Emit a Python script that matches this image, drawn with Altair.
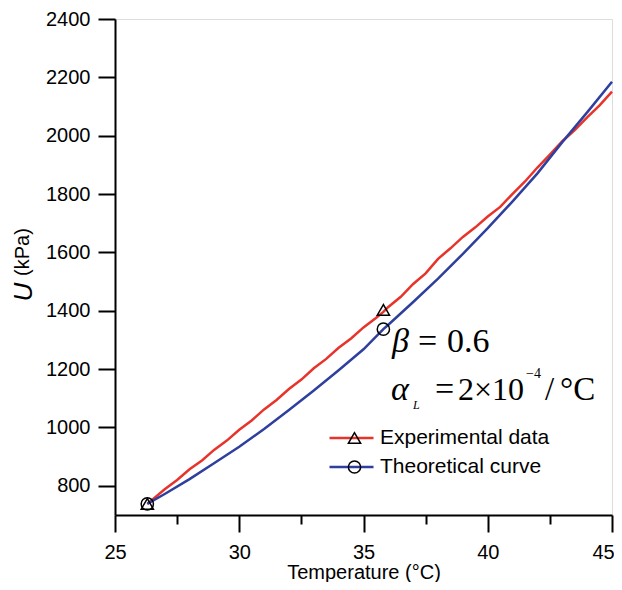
import altair as alt
import pandas as pd

# Experimental data (red)
exp_x = [26.3, 27.0, 27.5, 28.0, 28.5, 29.0, 29.5, 30.0, 30.5, 31.0, 31.5, 32.0, 32.5, 33.0,
         33.5, 34.0, 34.5, 35.0, 35.5, 35.8, 36.0, 36.5, 37.0, 37.5, 38.0, 38.5, 39.0, 39.5,
         40.0, 40.5, 41.0, 41.5, 42.0, 42.5, 43.0, 43.5, 44.0, 44.5, 45.0]
exp_y = [738, 788, 820, 857, 887, 924, 955, 992, 1024, 1062, 1094, 1132, 1164, 1203,
         1235, 1273, 1305, 1343, 1375, 1396, 1413, 1448, 1492, 1528, 1578, 1614, 1653, 1686,
         1723, 1756, 1801, 1843, 1891, 1935, 1981, 2019, 2063, 2104, 2151]

# Theoretical curve (blue)
th_x = [26.3, 27.0, 28.0, 29.0, 30.0, 31.0, 32.0, 33.0, 34.0, 35.0, 35.8, 36.0, 37.0, 38.0,
        39.0, 40.0, 41.0, 42.0, 43.0, 44.0, 45.0]
th_y = [738, 772, 823, 878, 934, 995, 1060, 1127, 1196, 1268, 1337, 1352, 1430, 1510,
        1595, 1683, 1775, 1871, 1978, 2080, 2185]

# Markers
tri_x = [26.3, 35.8]
tri_y = [738, 1403]
cir_x = [26.3, 35.8]
cir_y = [738, 1337]

series_names = ["Experimental data", "Theoretical curve"]
marker_keys = ["exp", "theo"]
series_colors = ["#e8332b", "#2e3f9e"]
series_shapes = ["triangle-up", "circle"]

x_ticks = [25, 27.5, 30, 32.5, 35, 37.5, 40, 42.5, 45]
y_ticks = list(range(800, 2401, 100))

lines_df = pd.DataFrame({
    "x": exp_x + th_x,
    "y": exp_y + th_y,
    "series": [series_names[0]] * len(exp_x) + [series_names[1]] * len(th_x),
})
pts_df = pd.DataFrame({
    "x": tri_x + cir_x,
    "y": tri_y + cir_y,
    "marker": [marker_keys[0]] * len(tri_x) + [marker_keys[1]] * len(cir_x),
})

FONT = "Liberation Sans"
SERIF = "Liberation Serif"

x_axis = alt.Axis(
    values=x_ticks,
    labelExpr="datum.value % 5 === 0 ? datum.label : ''",
    tickSize={"condition": {"test": "datum.value % 5 === 0", "value": 17}, "value": 9},
    labelOffset={"condition": {"test": "datum.value === 45", "value": -9}, "value": 0},
    labelFontSize=20, labelFont=FONT, labelColor="black", labelPadding=10,
    labelOverlap=False, labelFlush=False, format="d",
    domainColor="black", domainWidth=2, tickColor="black", tickWidth=2,
    grid=False,
    title="Temperature (°C)", titleFont=FONT, titleFontSize=20,
    titleFontWeight="normal", titleColor="black",
    titleBaseline="alphabetic", titleY=63,
)
y_axis = alt.Axis(
    values=y_ticks,
    labelExpr="datum.value % 200 === 0 ? datum.label : ''",
    tickSize={"condition": {"test": "datum.value % 200 === 0", "value": 17}, "value": 9},
    labelFontSize=20, labelFont=FONT, labelColor="black", labelPadding=8,
    labelOverlap=False, labelFlush=False, format="d",
    domainColor="black", domainWidth=2, tickColor="black", tickWidth=2,
    grid=False, title=None,
)

xs = alt.Scale(domain=[25, 45], nice=False, zero=False)
ys = alt.Scale(domain=[700, 2400], nice=False, zero=False)

lines = alt.Chart(lines_df).mark_line(strokeWidth=2.5).encode(
    x=alt.X("x:Q", scale=xs, axis=x_axis),
    y=alt.Y("y:Q", scale=ys, axis=y_axis),
    color=alt.Color(
        "series:N",
        scale=alt.Scale(domain=series_names, range=series_colors),
        legend=alt.Legend(
            title=None, orient="none", legendX=213, legendY=409, padding=0,
            symbolType="stroke", symbolSize=1936, symbolStrokeWidth=2.5,
            clipHeight=20, rowPadding=8, labelFontSize=21, labelFont=FONT,
            labelColor="black", labelOffset=5, labelLimit=400,
        ),
    ),
    order=alt.Order("x:Q"),
)

points = alt.Chart(pts_df).mark_point(filled=False, color="black", size=150, strokeWidth=1.5, opacity=1).encode(
    x="x:Q",
    y="y:Q",
    shape=alt.Shape(
        "marker:N",
        scale=alt.Scale(domain=marker_keys, range=series_shapes),
        legend=alt.Legend(
            title=None, orient="none", legendX=229, legendY=409, padding=0,
            symbolSize=150, symbolStrokeWidth=1.5, symbolStrokeColor="black",
            symbolFillColor="white", symbolOpacity=1,
            clipHeight=20, rowPadding=8, labelFontSize=21, labelFont=FONT,
            labelExpr="''", labelOffset=0,
        ),
    ),
)

one = pd.DataFrame({"k": [0]})


def txt(s, x, y, size, font=SERIF, style="normal", angle=0, align="left", baseline="alphabetic"):
    return alt.Chart(one).mark_text(
        text=s, font=font, fontSize=size, fontStyle=style, color="black",
        align=align, baseline=baseline, angle=angle,
    ).encode(x=alt.value(x), y=alt.value(y))


texts = [
    txt("β", 277, 333, 34, style="italic"),
    txt("=", 303, 333, 34),
    txt("0.6", 332, 333, 34),
    txt("α", 276, 381, 34, style="italic"),
    txt("L", 298, 390, 12, style="italic"),
    txt("=", 320, 381, 34),
    txt("2×10", 343, 381, 32),
    txt("−4", 411, 359, 14),
    txt("/", 430, 381, 33),
    txt("°C", 445, 381, 33),
    txt("U", -91, 273, 26, font=FONT, style="italic", angle=270, align="center", baseline="middle"),
    txt("(kPa)", -92, 233, 20, font=FONT, angle=270, align="center", baseline="middle"),
]

chart = alt.layer(lines, points, *texts).properties(
    width=497, height=496,
    autosize=alt.AutoSizeParams(type="none"),
    padding={"left": 107, "top": 11, "right": 2, "bottom": 67},
).configure_view(stroke=None).configure(background="white")

chart.save("out.html", embed_options={"renderer": "svg", "actions": False})
